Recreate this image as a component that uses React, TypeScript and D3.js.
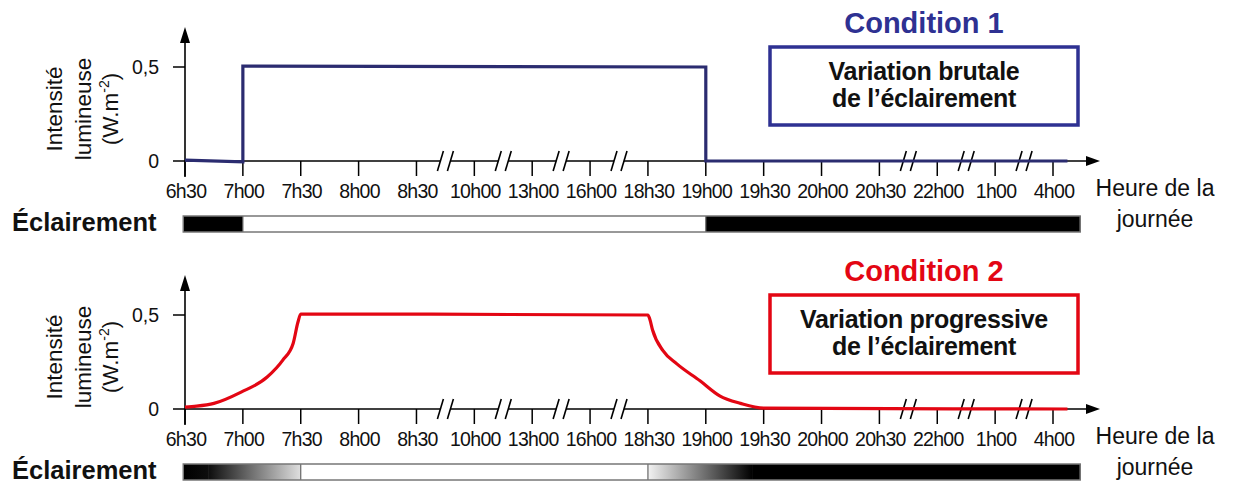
import * as d3 from 'd3';
import { useEffect, useRef } from 'react';

// slot index of each time label on the (broken) time axis
const tickLabels = [
  '6h30', '7h00', '7h30', '8h00', '8h30', '10h00', '13h00', '16h00',
  '18h30', '19h00', '19h30', '20h00', '20h30', '22h00', '1h00', '4h00',
];
const breakSlots = [4.5, 5.5, 6.5, 7.5, 12.5, 13.5, 14.5];
const yTicks = [0, 0.5];
const yTickLabels = ['0', '0,5'];

// Condition 1: abrupt change
const cond1Slots = [0, 1, 1, 9, 9, 15.25];
const cond1Values = [0.005, -0.005, 0.505, 0.5, 0, 0];

// Condition 2: progressive change
const cond2Slots = [
  0, 0.2, 0.5, 0.97, 1.42, 1.69, 1.87, 1.95, 2, 8, 8.03, 8.08, 8.26, 8.5,
  8.9, 9.24, 9.6, 10, 15.25,
];
const cond2Values = [
  0.01, 0.015, 0.03, 0.09, 0.17, 0.26, 0.35, 0.46, 0.505, 0.5, 0.48, 0.42,
  0.31, 0.24, 0.15, 0.07, 0.03, 0.005, 0,
];

// lighting bar: [start slot, end slot, light at start, light at end, divider]
const light1: [number, number, number, number, boolean][] = [
  [-0.03, 1, 0, 0, false],
  [1, 9, 1, 1, true],
  [9, 15.47, 0, 0, true],
];
const light2: [number, number, number, number, boolean][] = [
  [-0.03, 0.4, 0, 0.05, false],
  [0.4, 2, 0.05, 0.88, false],
  [2, 8, 1, 1, true],
  [8, 9.8, 0.95, 0, true],
  [9.8, 15.47, 0, 0, false],
];

const FONT = '"Liberation Sans", Arial, sans-serif';

interface Panel {
  title: string;
  color: string;
  lineColor: string;
  lines: string[];
  slots: number[];
  values: number[];
  light: [number, number, number, number, boolean][];
  curved: boolean;
}

const panels: Panel[] = [
  {
    title: 'Condition 1',
    color: '#2e3192',
    lineColor: '#2b2c70',
    lines: ['Variation brutale', 'de l\u2019éclairement'],
    slots: cond1Slots,
    values: cond1Values,
    light: light1,
    curved: false,
  },
  {
    title: 'Condition 2',
    color: '#e30613',
    lineColor: '#e30613',
    lines: ['Variation progressive', 'de l\u2019éclairement'],
    slots: cond2Slots,
    values: cond2Values,
    light: light2,
    curved: true,
  },
];

const App = () => {
  const svgRef = useRef<SVGSVGElement>(null);

  useEffect(() => {
    if (!svgRef.current) return;
    const svg = d3.select(svgRef.current);
    svg.selectAll('*').remove();

    const x = d3.scaleLinear().domain([0, 15]).range([185, 1053]);
    const gray = d3.scaleLinear<string>().domain([0, 1]).range(['#000', '#fff']);
    const defs = svg.append('defs');

    panels.forEach((p, pi) => {
      const g = svg.append('g').attr('transform', `translate(0,${pi * 248})`);
      const y = d3.scaleLinear().domain([0, 0.5]).range([161, 67]);
      const y0 = y(0);

      // x axis with breaks
      const axisEnd = 1088;
      const cuts = [185, ...breakSlots.flatMap((b) => [x(b) - 5, x(b) + 5]), axisEnd];
      for (let i = 0; i < cuts.length; i += 2) {
        g.append('line')
          .attr('x1', cuts[i]).attr('x2', cuts[i + 1])
          .attr('y1', y0).attr('y2', y0)
          .attr('stroke', '#000').attr('stroke-width', 1.5);
      }
      g.append('path')
        .attr('d', `M${axisEnd - 2},${y0 - 5}L1100,${y0}L${axisEnd - 2},${y0 + 5}Z`)
        .attr('fill', '#000');
      breakSlots.forEach((b) => {
        [-5, 5].forEach((dx) => {
          g.append('line')
            .attr('x1', x(b) + dx - 3).attr('y1', y0 + 10)
            .attr('x2', x(b) + dx + 3).attr('y2', y0 - 10)
            .attr('stroke', '#000').attr('stroke-width', 1.6);
        });
      });
      tickLabels.forEach((t, i) => {
        g.append('line')
          .attr('x1', x(i)).attr('x2', x(i))
          .attr('y1', y0).attr('y2', y0 + 15)
          .attr('stroke', '#000').attr('stroke-width', 1.5);
        g.append('text')
          .attr('x', x(i) + 1).attr('y', y0 + 37)
          .attr('text-anchor', 'middle')
          .attr('font-family', FONT).attr('font-size', 19.5)
          .attr('letter-spacing', -0.7)
          .attr('fill', '#111')
          .text(t);
      });

      // y axis
      g.append('line')
        .attr('x1', 185).attr('x2', 185)
        .attr('y1', y0 + 16).attr('y2', 40)
        .attr('stroke', '#000').attr('stroke-width', 1.6);
      g.append('path').attr('d', 'M180,43L185,27L190,43Z').attr('fill', '#000');
      yTicks.forEach((v, i) => {
        g.append('line')
          .attr('x1', 173).attr('x2', 185)
          .attr('y1', y(v)).attr('y2', y(v))
          .attr('stroke', '#000').attr('stroke-width', 1.5);
        g.append('text')
          .attr('x', 159).attr('y', y(v) + 7)
          .attr('text-anchor', 'end')
          .attr('font-family', FONT).attr('font-size', 19.5)
          .attr('fill', '#111')
          .text(yTickLabels[i]);
      });

      // y axis title
      const yLab = [
        { t: 'Intensité', bx: 62 },
        { t: 'lumineuse', bx: 91 },
      ];
      yLab.forEach((l) => {
        g.append('text')
          .attr('transform', `translate(${l.bx},109) rotate(-90)`)
          .attr('text-anchor', 'middle')
          .attr('font-family', FONT).attr('font-size', 22.5)
          .attr('fill', '#111')
          .text(l.t);
      });
      const unit = g.append('text')
        .attr('transform', `translate(118,109) rotate(-90)`)
        .attr('text-anchor', 'middle')
        .attr('font-family', FONT).attr('font-size', 22.5)
        .attr('fill', '#111');
      unit.append('tspan').text('(W.m');
      unit.append('tspan').attr('font-size', 14).attr('dy', -9).text('-2');
      unit.append('tspan').attr('dy', 9).text(')');

      // "Heure de la journée"
      ['Heure de la', 'journée'].forEach((t, i) => {
        g.append('text')
          .attr('x', 1155).attr('y', 196 + i * 31)
          .attr('text-anchor', 'middle')
          .attr('font-family', FONT).attr('font-size', 23)
          .attr('fill', '#111')
          .text(t);
      });

      // data line
      const pts = p.slots.map((s, i) => [s, p.values[i]] as [number, number]);
      const line = d3.line<[number, number]>()
        .x((d) => x(d[0]))
        .y((d) => y(d[1]))
        .curve(p.curved ? d3.curveMonotoneX : d3.curveLinear);
      g.append('path')
        .attr('d', line(pts))
        .attr('fill', 'none')
        .attr('stroke', p.lineColor)
        .attr('stroke-width', 3.2)
        .attr('stroke-linejoin', 'miter');

      // title and box
      g.append('text')
        .attr('x', 924).attr('y', 33)
        .attr('text-anchor', 'middle')
        .attr('font-family', FONT).attr('font-size', 29).attr('font-weight', 700)
        .attr('fill', p.color)
        .text(p.title);
      g.append('rect')
        .attr('x', 770).attr('y', 47).attr('width', 308).attr('height', 78)
        .attr('fill', '#fff').attr('stroke', p.color).attr('stroke-width', 3.5);
      p.lines.forEach((t, i) => {
        g.append('text')
          .attr('x', 924).attr('y', 80 + i * 27)
          .attr('text-anchor', 'middle')
          .attr('font-family', FONT).attr('font-size', 25).attr('font-weight', 700)
          .attr('letter-spacing', -0.3)
          .attr('fill', '#111')
          .text(t);
      });

      // lighting bar
      g.append('text')
        .attr('x', 12).attr('y', 231)
        .attr('font-family', FONT).attr('font-size', 25.5).attr('font-weight', 700)
        .attr('fill', '#111')
        .text('Éclairement');
      p.light.forEach((seg, si) => {
        const [s0, s1, l0, l1] = seg;
        let fill = gray(l0);
        if (l0 !== l1) {
          const id = `grad-${pi}-${si}`;
          const grad = defs.append('linearGradient').attr('id', id)
            .attr('x1', '0%').attr('x2', '100%');
          grad.append('stop').attr('offset', '0%').attr('stop-color', gray(l0));
          grad.append('stop').attr('offset', '100%').attr('stop-color', gray(l1));
          fill = `url(#${id})`;
        }
        g.append('rect')
          .attr('x', x(s0)).attr('y', 216)
          .attr('width', x(s1) - x(s0) + 0.5).attr('height', 16)
          .attr('fill', fill);
      });
      const bx0 = x(p.light[0][0]);
      const bx1 = x(p.light[p.light.length - 1][1]);
      p.light.filter((seg) => seg[4]).forEach((seg) => {
        g.append('line')
          .attr('x1', x(seg[0])).attr('x2', x(seg[0]))
          .attr('y1', 216).attr('y2', 232)
          .attr('stroke', '#666').attr('stroke-width', 1.2);
      });
      g.append('rect')
        .attr('x', bx0).attr('y', 216)
        .attr('width', bx1 - bx0).attr('height', 16)
        .attr('fill', 'none').attr('stroke', '#777').attr('stroke-width', 1.5);
    });
  }, []);

  return (
    <svg
      ref={svgRef}
      width={1241}
      height={487}
      style={{ position: 'absolute', left: 0, top: 0, background: '#fff' }}
    />
  );
};

export default App;
